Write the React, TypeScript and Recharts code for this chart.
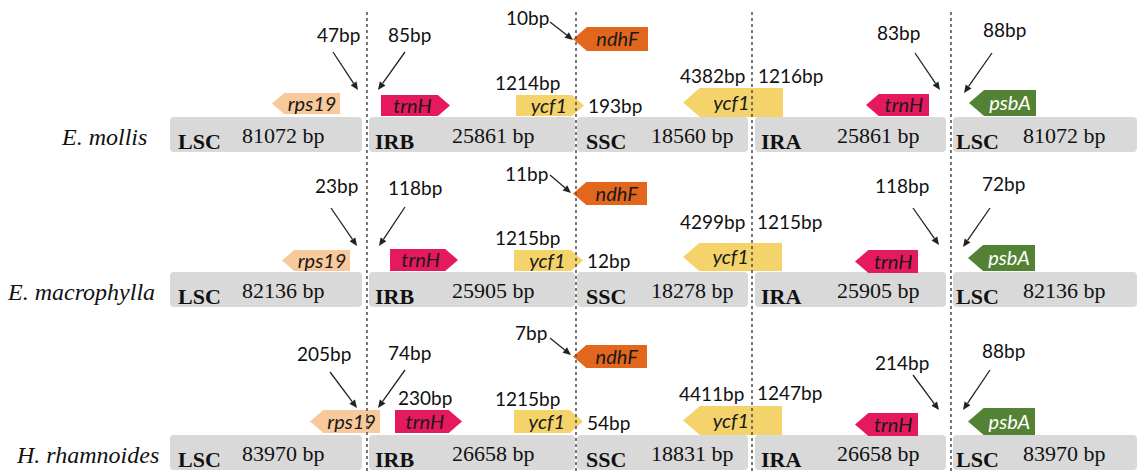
import React from "react";
import {
  ComposedChart,
  XAxis,
  YAxis,
  ReferenceArea,
  ReferenceLine,
  Scatter,
} from "recharts";

// ---- data ----
const species = ["E. mollis", "E. macrophylla", "H. rhamnoides"];
const regions = ["LSC", "IRB", "SSC", "IRA", "LSC"];
const regionLengths = [
  [81072, 25861, 18560, 25861, 81072],
  [82136, 25905, 18278, 25905, 82136],
  [83970, 26658, 18831, 26658, 83970],
];
const genes = ["rps19", "trnH", "ycf1", "ndhF", "ycf1", "trnH", "psbA"];
const strands = ["-", "+", "+", "-", "-", "-", "-"];
const bpLabels = [
  ["47bp", "85bp", "10bp", "1214bp", "193bp", "4382bp", "1216bp", "83bp", "88bp"],
  ["23bp", "118bp", "11bp", "1215bp", "12bp", "4299bp", "1215bp", "118bp", "72bp"],
  ["205bp", "74bp", "7bp", "1215bp", "54bp", "4411bp", "1247bp", "214bp", "88bp", "230bp"],
];

// ---- schematic layout (axis units) ----
const W = 1137;
const H = 474;
const junctionX = [367, 576, 752, 951];
const rowTop = [117, 272, 435];
const barHeight = 35;
const segmentX = [
  [170, 362],
  [369, 575],
  [577, 748],
  [755, 946],
  [953, 1137],
];
const regionLabelX = [178, 375, 586, 761, 956];
const lengthLabelX = [242, 452, 651, 837, 1023];
const speciesX = [62, 8, 17];
// [x1, x2, y1, y2] for each gene, per row
const geneBoxes = [
  [[272, 340, 93, 114], [381, 450, 95, 116], [516, 584, 95, 116], [573, 648, 27, 51], [683, 783, 88, 117], [866, 929, 94, 116], [969, 1036, 90, 116]],
  [[282, 350, 250, 271], [390, 458, 249, 271], [514, 583, 250, 271], [573, 647, 182, 205], [683, 782, 243, 271], [855, 918, 250, 273], [968, 1035, 245, 271]],
  [[310, 380, 410, 433], [395, 462, 410, 433], [514, 583, 410, 433], [573, 647, 345, 368], [683, 782, 406, 435], [855, 918, 413, 436], [968, 1035, 408, 435]],
];
const labelShift = [0, 3, 5, 0, -10, 0, 0];
// [x, baseline] of each bp label
const bpPos = [
  [[317, 42], [388, 42], [506, 25], [495, 90], [588, 113], [680, 83], [758, 83], [877, 40], [983, 37]],
  [[315, 193], [388, 195], [505, 181], [495, 245], [587, 268], [680, 229], [757, 229], [875, 193], [982, 191]],
  [[297, 361], [388, 360], [515, 340], [495, 406], [587, 430], [679, 401], [757, 400], [875, 370], [982, 358], [398, 405]],
];
// pointer arrows [x1, y1, x2, y2]
const pointers = [
  [[333, 52, 358, 90], [405, 52, 378, 90], [550, 22, 573, 40], [915, 53, 940, 90], [992, 53, 964, 93]],
  [[331, 208, 357, 246], [405, 207, 379, 246], [550, 175, 571, 193], [913, 208, 939, 245], [990, 208, 963, 247]],
  [[330, 372, 357, 408], [405, 370, 378, 408], [550, 338, 571, 355], [913, 375, 939, 410], [990, 370, 963, 410]],
];

const geneColors: Record<string, string> = {
  rps19: "#f8c99b",
  trnH: "#e5195d",
  ycf1: "#f5d36b",
  ndhF: "#e3661d",
  psbA: "#548235",
};

const SERIF = "'Liberation Serif', 'Times New Roman', serif";
const SANS = "Lato, 'Open Sans', sans-serif";

const speciesPts = species.map((s, i) => ({ x: speciesX[i], y: rowTop[i] + 28, label: s }));
const regionPts = rowTop.flatMap((t) =>
  regions.map((r, j) => ({ x: regionLabelX[j], y: t + 32, label: r }))
);
const lengthPts = rowTop.flatMap((t, i) =>
  regionLengths[i].map((v, j) => ({ x: lengthLabelX[j], y: t + 26, label: `${v} bp` }))
);
const bpPts = bpLabels.flatMap((row, i) =>
  row.map((l, j) => ({ x: bpPos[i][j][0], y: bpPos[i][j][1], label: l }))
);

const textShape = (style: any) => (p: any) =>
  (
    <text x={p.cx} y={p.cy} {...style}>
      {p.payload.label}
    </text>
  );

function GeneShape(props: any) {
  const { x, y, width, height, name, strand, shift } = props;
  const tip = Math.min(height * 0.58, width * 0.4);
  const m = y + height / 2;
  const pts =
    strand === "-"
      ? `${x},${m} ${x + tip},${y} ${x + width},${y} ${x + width},${y + height} ${x + tip},${y + height}`
      : `${x},${y} ${x + width - tip},${y} ${x + width},${m} ${x + width - tip},${y + height} ${x},${y + height}`;
  const cx = (strand === "-" ? x + tip + (width - tip) / 2 : x + (width - tip) / 2) + shift;
  return (
    <g>
      <polygon points={pts} fill={geneColors[name]} />
      <text
        x={cx}
        y={m + 7}
        textAnchor="middle"
        fontFamily={SANS}
        fontStyle="italic"
        fontSize={20}
        fill={name === "psbA" ? "#ffffff" : "#1a1a1a"}
      >
        {name}
      </text>
    </g>
  );
}

function Pointer(props: any) {
  const { x1, y1, x2, y2 } = props;
  const a = Math.atan2(y2 - y1, x2 - x1);
  const len = 8;
  const hw = 3.5;
  const bx = x2 - len * Math.cos(a);
  const by = y2 - len * Math.sin(a);
  const px = -Math.sin(a) * hw;
  const py = Math.cos(a) * hw;
  return (
    <g>
      <line x1={x1} y1={y1} x2={bx} y2={by} stroke="#222" strokeWidth={1.3} />
      <polygon points={`${x2},${y2} ${bx + px},${by + py} ${bx - px},${by - py}`} fill="#222" />
    </g>
  );
}

export default function App() {
  return (
    <div style={{ position: "absolute", left: 0, top: 0, width: W, height: H, background: "#fff" }}>
      <ComposedChart width={W} height={H} margin={{ top: 0, right: 0, bottom: 0, left: 0 }}>
        <XAxis type="number" dataKey="x" domain={[0, W]} allowDataOverflow hide />
        <YAxis type="number" dataKey="y" domain={[0, H]} allowDataOverflow reversed hide />

        {rowTop.map((t, i) =>
          segmentX.map(([a, b], j) => (
            <ReferenceArea
              key={`bar-${i}-${j}`}
              x1={a}
              x2={b}
              y1={t}
              y2={t + barHeight}
              shape={(p: any) => (
                <rect x={p.x} y={p.y} width={p.width} height={p.height} rx={4} fill="#d9d9d9" />
              )}
            />
          ))
        )}

        {geneBoxes.map((row, i) =>
          row.map(([a, b, c, d], j) => (
            <ReferenceArea
              key={`gene-${i}-${j}`}
              x1={a}
              x2={b}
              y1={c}
              y2={d}
              shape={(p: any) => (
                <GeneShape {...p} name={genes[j]} strand={strands[j]} shift={labelShift[j]} />
              )}
            />
          ))
        )}

        {junctionX.map((jx) => (
          <ReferenceLine
            key={`j-${jx}`}
            segment={[
              { x: jx, y: 12 },
              { x: jx, y: H },
            ]}
            stroke="#555"
            strokeWidth={1.6}
            strokeDasharray="3 3"
          />
        ))}

        {pointers.flatMap((row, i) =>
          row.map(([a, b, c, d], j) => (
            <ReferenceLine
              key={`p-${i}-${j}`}
              segment={[
                { x: a, y: b },
                { x: c, y: d },
              ]}
              shape={(p: any) => <Pointer {...p} />}
            />
          ))
        )}

        <Scatter
          data={speciesPts}
          isAnimationActive={false}
          shape={textShape({ fontFamily: SERIF, fontStyle: "italic", fontSize: 24, fill: "#111" })}
        />
        <Scatter
          data={regionPts}
          isAnimationActive={false}
          shape={textShape({ fontFamily: SERIF, fontWeight: "bold", fontSize: 22, fill: "#111" })}
        />
        <Scatter
          data={lengthPts}
          isAnimationActive={false}
          shape={textShape({ fontFamily: SERIF, fontSize: 22, fill: "#111" })}
        />
        <Scatter
          data={bpPts}
          isAnimationActive={false}
          shape={textShape({ fontFamily: SANS, fontSize: 19, fill: "#111" })}
        />
      </ComposedChart>
    </div>
  );
}
